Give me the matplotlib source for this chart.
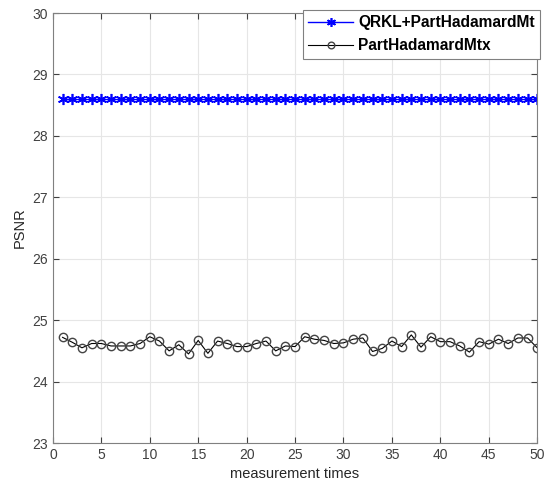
import numpy as np
import matplotlib.pyplot as plt

plt.rcParams['font.family'] = ['Liberation Sans', 'DejaVu Sans']

times = np.arange(1, 51)
qrkl = [28.6] * 50
part_hadamard = [24.72, 24.64, 24.55, 24.62, 24.62, 24.58, 24.58, 24.58, 24.62, 24.73,
                 24.66, 24.50, 24.60, 24.45, 24.67, 24.46, 24.66, 24.62, 24.57, 24.57,
                 24.62, 24.66, 24.50, 24.58, 24.57, 24.73, 24.69, 24.67, 24.62, 24.63,
                 24.69, 24.71, 24.49, 24.54, 24.66, 24.57, 24.76, 24.56, 24.73, 24.65,
                 24.65, 24.58, 24.48, 24.65, 24.61, 24.69, 24.62, 24.71, 24.71, 24.55]

fig = plt.figure(figsize=(5.51, 4.87), dpi=100)
ax = fig.add_axes([0.096, 0.0903, 0.879, 0.883])

ax.plot(times, qrkl, color='blue', marker=(6, 2, 0), markersize=8, linewidth=1,
        markeredgewidth=1.2, label='QRKL+PartHadamardMt')
ax.plot(times, part_hadamard, color='black', marker='o', markersize=6,
        markerfacecolor='none', markeredgecolor='#444444', linewidth=0.8,
        label='PartHadamardMtx')

ax.set_xlim(0, 50)
ax.set_ylim(23, 30)
ax.set_xticks(range(0, 51, 5))
ax.set_yticks(range(23, 31))
ax.grid(True, color='#e6e6e6', linewidth=0.8)
ax.set_axisbelow(True)
for s in ax.spines.values():
    s.set_color('#808080')
ax.tick_params(direction='in', colors='#404040', labelsize=10, length=4,
               top=True, right=True)
ax.set_xlabel('measurement times', fontsize=10.5, color='#262626')
ax.set_ylabel('PSNR', fontsize=10.5, color='#262626')

leg = ax.legend(loc='upper right', bbox_to_anchor=(540 / 551, 477 / 487),
                bbox_transform=fig.transFigure, fancybox=False,
                edgecolor='#808080', framealpha=1, borderaxespad=0,
                prop={'weight': 'bold', 'size': 11.2}, handlelength=2.9,
                handletextpad=0.3, borderpad=0.35, labelspacing=0.5,
                markerscale=0.8)
leg.get_frame().set_linewidth(0.8)

fig.savefig('out.png', dpi=100)
